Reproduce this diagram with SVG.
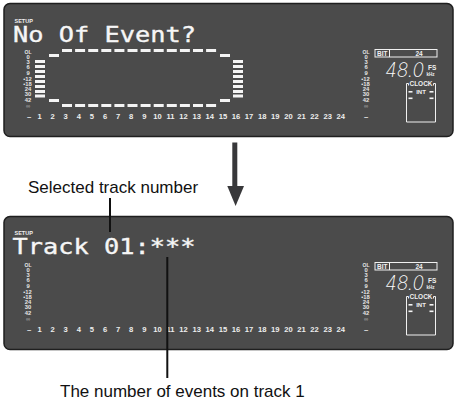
<svg xmlns="http://www.w3.org/2000/svg" width="456" height="403" viewBox="0 0 456 403">
<style>
.panel{fill:#4b4b4b;stroke:#1f1f1f;stroke-width:1.5}
.lcd{fill:#f4f4f4}
.title{font-family:"DejaVu Sans Mono",monospace;font-size:20.5px;fill:#f6f6f6;stroke:#f6f6f6;stroke-width:0.35}
.setup{font-family:"Liberation Sans",Arial,sans-serif;font-weight:bold;font-size:5.5px;fill:#f0f0f0}
.meter{font-family:"Liberation Sans",Arial,sans-serif;font-weight:bold;font-size:5.8px;fill:#e6e6e6;text-anchor:middle}
.inf{fill:#9a9a9a}
.num{font-family:"Liberation Sans",Arial,sans-serif;font-weight:bold;font-size:7.6px;fill:#eeeeee;text-anchor:middle}
.small{font-family:"Liberation Sans",Arial,sans-serif;font-weight:bold;fill:#f0f0f0}
.seg{font-family:Inter,"DejaVu Sans",sans-serif;font-weight:200;font-style:italic;font-size:20px;fill:#fbfbfb}
.box{fill:none;stroke:#f0f0f0;stroke-width:1}
.dash{fill:none;stroke:#f4f4f4;stroke-width:3;stroke-dasharray:10 3.1}
.cap{font-family:"Liberation Sans",Arial,sans-serif;font-size:17px;fill:#111}
.leader{stroke:#111;stroke-width:2;fill:none}
</style>

<g id="panel-top">
<rect class="panel" x="4" y="3.5" width="449" height="133" rx="6"/>
<text class="setup" x="14.5" y="22.5">SETUP</text>
<text class="title" x="13" y="42" textLength="183" lengthAdjust="spacingAndGlyphs">No Of Event?</text>
<text class="meter"><tspan x="28" y="53.5" font-size="5">OL</tspan><tspan x="28" y="58.7">0</tspan><tspan x="28" y="63.7">3</tspan><tspan x="28" y="69.2">6</tspan><tspan x="28" y="74.7">9</tspan><tspan x="27.5" y="80.5">•12</tspan><tspan x="27.5" y="86">•18</tspan><tspan x="28" y="91.3">24</tspan><tspan x="28" y="96.3">30</tspan><tspan x="28" y="101.6">42</tspan><tspan class="inf" x="28" y="107.5">∞</tspan></text>
<g class="lcd">
<rect x="35" y="60" width="10" height="3"/><rect x="35" y="65" width="10" height="3"/><rect x="35" y="70" width="10" height="3"/><rect x="35" y="75" width="10" height="3"/><rect x="35" y="80" width="10" height="3"/><rect x="35" y="85" width="10" height="3"/><rect x="35" y="90" width="10" height="3"/><rect x="35" y="94.5" width="10" height="3"/>
<rect x="233" y="60" width="10" height="3"/><rect x="233" y="65" width="10" height="3"/><rect x="233" y="70" width="10" height="3"/><rect x="233" y="75" width="10" height="3"/><rect x="233" y="80" width="10" height="3"/><rect x="233" y="85" width="10" height="3"/><rect x="233" y="90" width="10" height="3"/><rect x="233" y="94.5" width="10" height="3"/>
<rect x="49" y="54" width="10" height="3"/><rect x="220" y="54" width="10" height="3"/>
<rect x="49" y="99" width="10" height="3"/><rect x="220" y="99" width="10" height="3"/>
</g>
<path class="dash" d="M62 50.5H216.5M62 105.5H216.5"/>
<text class="num"><tspan x="29" y="118.5">–</tspan><tspan x="39.5" y="118.5">1</tspan><tspan x="52.6" y="118.5">2</tspan><tspan x="65.7" y="118.5">3</tspan><tspan x="78.8" y="118.5">4</tspan><tspan x="91.9" y="118.5">5</tspan><tspan x="105" y="118.5">6</tspan><tspan x="118.1" y="118.5">7</tspan><tspan x="131.2" y="118.5">8</tspan><tspan x="144.3" y="118.5">9</tspan><tspan x="157.4" y="118.5">10</tspan><tspan x="170.5" y="118.5">11</tspan><tspan x="183.6" y="118.5">12</tspan><tspan x="196.7" y="118.5">13</tspan><tspan x="209.8" y="118.5">14</tspan><tspan x="222.9" y="118.5">15</tspan><tspan x="236" y="118.5">16</tspan><tspan x="249.1" y="118.5">17</tspan><tspan x="262.2" y="118.5">18</tspan><tspan x="275.3" y="118.5">19</tspan><tspan x="288.4" y="118.5">20</tspan><tspan x="301.5" y="118.5">21</tspan><tspan x="314.6" y="118.5">22</tspan><tspan x="327.7" y="118.5">23</tspan><tspan x="340.8" y="118.5">24</tspan><tspan x="366" y="118.5">–</tspan></text>
<text class="meter"><tspan x="366" y="53.5" font-size="5">OL</tspan><tspan x="366" y="58.7">0</tspan><tspan x="366" y="63.7">3</tspan><tspan x="366" y="69.2">6</tspan><tspan x="366" y="74.7">9</tspan><tspan x="365.5" y="80.5">•12</tspan><tspan x="365.5" y="86">•18</tspan><tspan x="366" y="91.3">24</tspan><tspan x="366" y="96.3">30</tspan><tspan x="366" y="101.6">42</tspan><tspan class="inf" x="366" y="107.5">∞</tspan></text>
<rect class="box" x="375" y="49.5" width="62" height="7.5"/>
<path class="box" d="M389.5 49.5V57"/>
<text class="small" x="377" y="55.7" font-size="6.5">BIT</text>
<text class="small" x="419" y="55.7" font-size="6.5" text-anchor="middle">24</text>
<text class="seg" x="385" y="76.7" textLength="39" lengthAdjust="spacingAndGlyphs">48.0</text>
<text class="small" x="428" y="69.5" font-size="6.5">FS</text>
<text class="small" x="426.5" y="76.3" font-size="4.5">kHz</text>
<path class="box" d="M408.5 85.5V83.5H406.5V122H435.5V83.5H433.5V85.5"/>
<text class="small" x="421" y="86.3" font-size="6.5" text-anchor="middle">CLOCK</text>
<text class="small" x="421" y="93.8" font-size="6" text-anchor="middle">INT</text>
<g class="lcd"><rect x="408.5" y="91" width="4" height="1.6"/><rect x="429.5" y="91" width="4" height="1.6"/><rect x="408.5" y="97.5" width="4" height="1.6"/><rect x="429.5" y="97.5" width="4" height="1.6"/></g>
</g>

<g id="arrow">
<rect x="232.3" y="142.5" width="5" height="44" fill="#38383a"/>
<polygon points="227.3,186 244,186 235.6,206" fill="#38383a"/>
</g>

<g id="label-selected">
<text class="cap" x="28" y="193">Selected track number</text>
</g>

<g id="panel-bottom">
<rect class="panel" x="4" y="216.5" width="449" height="133" rx="6"/>
<text class="setup" x="14.5" y="235">SETUP</text>
<text class="title" x="12.5" y="253.5" textLength="183" lengthAdjust="spacingAndGlyphs">Track 01:***</text>
<text class="meter"><tspan x="28" y="266.5" font-size="5">OL</tspan><tspan x="28" y="271.7">0</tspan><tspan x="28" y="276.7">3</tspan><tspan x="28" y="282.2">6</tspan><tspan x="28" y="287.7">9</tspan><tspan x="27.5" y="293.5">•12</tspan><tspan x="27.5" y="299">•18</tspan><tspan x="28" y="304.3">24</tspan><tspan x="28" y="309.3">30</tspan><tspan x="28" y="314.6">42</tspan><tspan class="inf" x="28" y="320.5">∞</tspan></text>
<text class="num"><tspan x="29" y="331.5">–</tspan><tspan x="39.5" y="331.5">1</tspan><tspan x="52.6" y="331.5">2</tspan><tspan x="65.7" y="331.5">3</tspan><tspan x="78.8" y="331.5">4</tspan><tspan x="91.9" y="331.5">5</tspan><tspan x="105" y="331.5">6</tspan><tspan x="118.1" y="331.5">7</tspan><tspan x="131.2" y="331.5">8</tspan><tspan x="144.3" y="331.5">9</tspan><tspan x="157.4" y="331.5">10</tspan><tspan x="170.5" y="331.5">11</tspan><tspan x="183.6" y="331.5">12</tspan><tspan x="196.7" y="331.5">13</tspan><tspan x="209.8" y="331.5">14</tspan><tspan x="222.9" y="331.5">15</tspan><tspan x="236" y="331.5">16</tspan><tspan x="249.1" y="331.5">17</tspan><tspan x="262.2" y="331.5">18</tspan><tspan x="275.3" y="331.5">19</tspan><tspan x="288.4" y="331.5">20</tspan><tspan x="301.5" y="331.5">21</tspan><tspan x="314.6" y="331.5">22</tspan><tspan x="327.7" y="331.5">23</tspan><tspan x="340.8" y="331.5">24</tspan><tspan x="366" y="331.5">–</tspan></text>
<text class="meter"><tspan x="366" y="266.5" font-size="5">OL</tspan><tspan x="366" y="271.7">0</tspan><tspan x="366" y="276.7">3</tspan><tspan x="366" y="282.2">6</tspan><tspan x="366" y="287.7">9</tspan><tspan x="365.5" y="293.5">•12</tspan><tspan x="365.5" y="299">•18</tspan><tspan x="366" y="304.3">24</tspan><tspan x="366" y="309.3">30</tspan><tspan x="366" y="314.6">42</tspan><tspan class="inf" x="366" y="320.5">∞</tspan></text>
<rect class="box" x="375" y="262.5" width="62" height="7.5"/>
<path class="box" d="M389.5 262.5V270"/>
<text class="small" x="377" y="268.7" font-size="6.5">BIT</text>
<text class="small" x="419" y="268.7" font-size="6.5" text-anchor="middle">24</text>
<text class="seg" x="385" y="289.7" textLength="39" lengthAdjust="spacingAndGlyphs">48.0</text>
<text class="small" x="428" y="282.5" font-size="6.5">FS</text>
<text class="small" x="426.5" y="289.3" font-size="4.5">kHz</text>
<path class="box" d="M408.5 298.5V296.5H406.5V335H435.5V296.5H433.5V298.5"/>
<text class="small" x="421" y="299.3" font-size="6.5" text-anchor="middle">CLOCK</text>
<text class="small" x="421" y="306.8" font-size="6" text-anchor="middle">INT</text>
<g class="lcd"><rect x="408.5" y="304" width="4" height="1.6"/><rect x="429.5" y="304" width="4" height="1.6"/><rect x="408.5" y="310.5" width="4" height="1.6"/><rect x="429.5" y="310.5" width="4" height="1.6"/></g>
</g>

<g id="label-events">
<text class="cap" x="60" y="397">The number of events on track 1</text>
</g>

<g id="connectors">
<path class="leader" d="M110 198V232"/>
<path class="leader" d="M167.3 257V378"/>
</g>
</svg>
